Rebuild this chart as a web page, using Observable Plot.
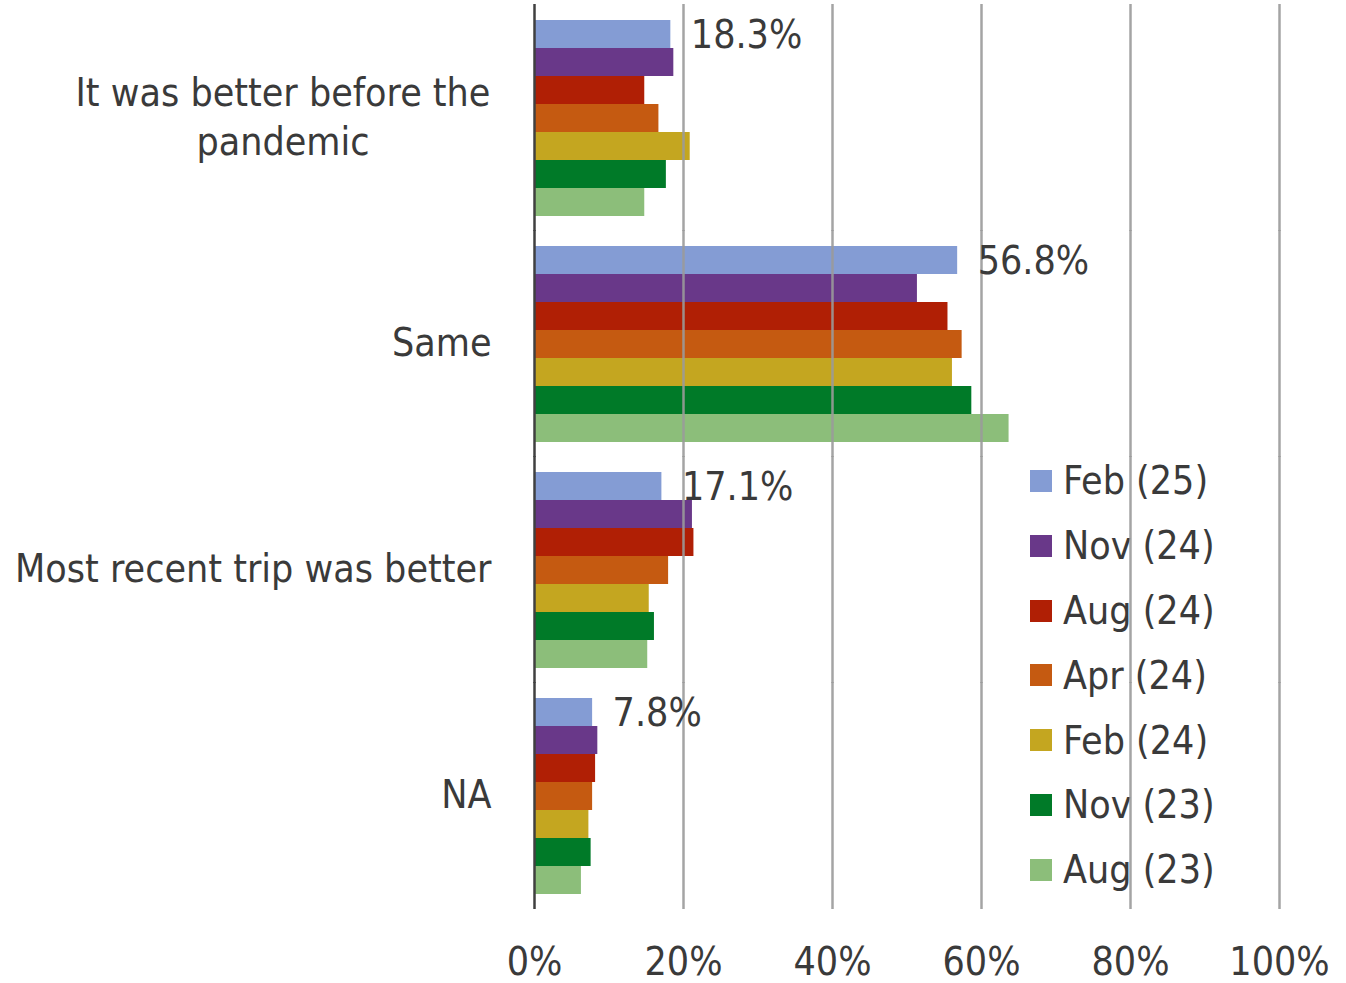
<!DOCTYPE html>
<html>
<head>
<meta charset="utf-8">
<script src="https://cdn.jsdelivr.net/npm/d3@7"></script>
<script src="https://cdn.jsdelivr.net/npm/@observablehq/plot@0.6"></script>
<style>
  html, body { margin: 0; padding: 0; background: #fff; overflow: hidden; }
  #wrap { position: relative; width: 1346px; height: 983px; }
  #chart { position: absolute; left: 0; top: 0; z-index: 1; }
  #legend { position: absolute; left: 1030px; top: 448.6px; z-index: 0;
    font-family: "DejaVu Sans Condensed", "DejaVu Sans", sans-serif; font-stretch: condensed;
    font-size: 39px; color: #3a3a3a; }
  .row { display: flex; align-items: center; height: 64.8px; white-space: nowrap; }
  .sw { width: 22px; height: 22px; margin-right: 11px; flex: none; }
</style>
</head>
<body>
<div id="wrap"><div id="legend"></div><div id="chart"></div></div>
<script>
const categories = ["It was better before the pandemic", "Same", "Most recent trip was better", "NA"];
const categoryLabels = ["It was better before the\npandemic", "Same", "Most recent trip was better", "NA"];
const series = ["Feb (25)", "Nov (24)", "Aug (24)", "Apr (24)", "Feb (24)", "Nov (23)", "Aug (23)"];
const colors = ["#849cd4", "#693889", "#b01f05", "#c55a11", "#c4a620", "#007a28", "#8cbe7a"];

// values per series, in category order (percent)
const feb25 = [18.3, 56.8, 17.1, 7.8];
const nov24 = [18.7, 51.4, 21.2, 8.5];
const aug24 = [14.8, 55.5, 21.4, 8.2];
const apr24 = [16.7, 57.4, 18.0, 7.8];
const feb24 = [20.9, 56.1, 15.4, 7.3];
const nov23 = [17.7, 58.7, 16.1, 7.6];
const aug23 = [14.8, 63.7, 15.2, 6.3];
const seriesValues = [feb25, nov24, aug24, apr24, feb24, nov23, aug23];

const xTicks = [0, 20, 40, 60, 80, 100];
const gridTicks = [20, 40, 60, 80, 100];

const data = [];
categories.forEach((c, ci) => {
  series.forEach((s, si) => {
    data.push({category: c, label: categoryLabels[ci], series: s, value: seriesValues[si][ci]});
  });
});

const textColor = "#3a3a3a";
const font = "'DejaVu Sans Condensed', 'DejaVu Sans', sans-serif";

const chart = Plot.plot({
  width: 1346,
  height: 983,
  marginLeft: 534,
  marginRight: 67,
  marginTop: 5,
  marginBottom: 75,
  style: {background: "transparent", fontFamily: font, fontSize: "39px", color: textColor, overflow: "visible", fontStretch: "condensed"},
  facet: {data, y: "category"},
  fy: {domain: categories, paddingInner: 0.12, paddingOuter: 0.053, axis: null, label: null},
  y: {domain: series, padding: 0, axis: null, label: null},
  x: {domain: [0, 100], ticks: xTicks, tickFormat: d => d + "%", tickSize: 0, tickPadding: 52, label: null},
  color: {domain: series, range: colors},
  marks: [
    Plot.barX(data, {x: "value", y: "series", fill: "series", insetTop: 0, insetBottom: 0}),
    Plot.ruleX(gridTicks, {stroke: "#9a9a9a", strokeWidth: 2.5, strokeOpacity: 0.9, insetTop: -14, insetBottom: -14}),
    Plot.ruleX([0], {stroke: "#404040", strokeWidth: 2.5, insetTop: -14, insetBottom: -14}),
    Plot.text(data, {filter: d => d.series === series[0], x: "value", y: "series",
      text: d => d.value.toFixed(1) + "%", textAnchor: "start", dx: 20, dy: 1, fill: textColor, fontSize: 39}),
    Plot.text(data, {filter: d => d.series === series[0] && !d.label.includes("\n"), frameAnchor: "left",
      text: "label", textAnchor: "end", dx: -43, fill: textColor, fontSize: 39}),
    Plot.text(data, {filter: d => d.series === series[0] && d.label.includes("\n"), frameAnchor: "left",
      text: "label", textAnchor: "middle", dx: -251.5, dy: -3, lineHeight: 1.264, fill: textColor, fontSize: 39})
  ]
});
document.getElementById("chart").appendChild(chart);

const legend = document.getElementById("legend");
series.forEach((s, i) => {
  const row = document.createElement("div");
  row.className = "row";
  const sw = document.createElement("span");
  sw.className = "sw";
  sw.style.background = colors[i];
  const t = document.createElement("span");
  t.textContent = s;
  row.appendChild(sw);
  row.appendChild(t);
  legend.appendChild(row);
});
</script>
</body>
</html>
